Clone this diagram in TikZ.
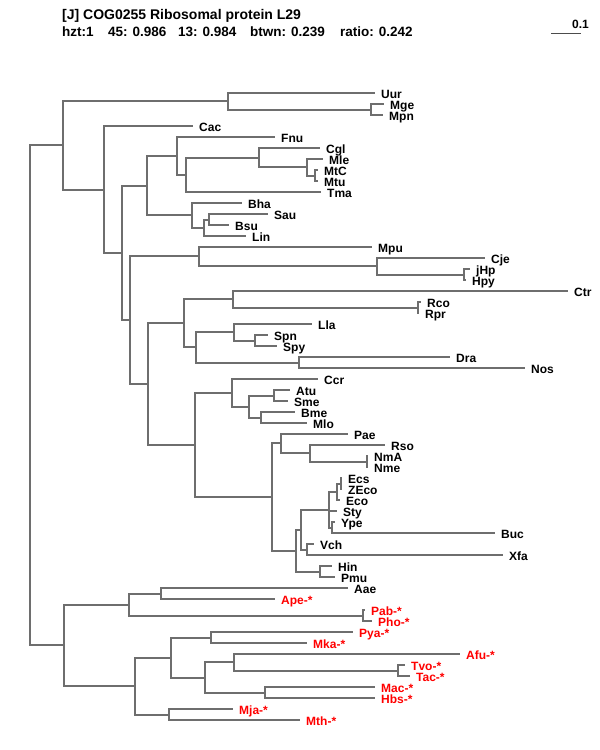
\documentclass[tikz,border=0pt]{standalone}
\usepackage{fontspec}
\setmainfont{Liberation Sans}
\begin{document}
\begin{tikzpicture}[x=1pt,y=-1pt]
    % COG0255 tree, laid out in pixel units (y grows downwards).
    % Every clade is a coordinate; branches run parent |- child.

    \tikzset{
      branch/.style={line width=2pt, draw=black!57},
      lab/.style={font=\fontsize{12}{13}\selectfont\bfseries, inner sep=0pt,
                  text height=8.6pt, text depth=0pt, xshift=6pt, yshift=-1.3pt},
      arch/.style={lab, text=red},
      head/.style={font=\fontsize{13.5}{15}\selectfont\bfseries, inner sep=0pt, anchor=base west}
    }
    \useasboundingbox (0,0) rectangle (600,750);

    % --- header and scale bar
    \node[head, font=\fontsize{14}{15}\selectfont\bfseries] (title) at (62,19) {[J] COG0255 Ribosomal protein L29};
    \node[head] (hzt) at (62,36) {hzt:1};
    \node[head] (s45) at (108,36) {45: 0.986};
    \node[head] (s13) at (178,36) {13: 0.984};
    \node[head] (btwn) at (250,36) {btwn: 0.239};
    \node[head] (ratio) at (340,36) {ratio: 0.242};
    \coordinate (barL) at (551,33);
    \coordinate (barR) at (581,33);
    \draw[line width=1pt, black!70] (barL) -- (barR);
    \node[lab, xshift=0pt, yshift=0pt, anchor=base east] (barlab) at (583,27) {0.1};

    % --- bacterial leaves
    \coordinate[label={[lab]0:Uur}] (Uur) at (375,93);
    \coordinate[label={[lab]0:Mge}] (Mge) at (384,104);
    \coordinate[label={[lab]0:Mpn}] (Mpn) at (383,115);
    \coordinate[label={[lab]0:Cac}] (Cac) at (193,126);
    \coordinate[label={[lab]0:Fnu}] (Fnu) at (275,137);
    \coordinate[label={[lab]0:Cgl}] (Cgl) at (320,148);
    \coordinate[label={[lab]0:Mle}] (Mle) at (323,159);
    \coordinate[label={[lab]0:MtC}] (MtC) at (318,170);
    \coordinate[label={[lab]0:Mtu}] (Mtu) at (318,181);
    \coordinate[label={[lab]0:Tma}] (Tma) at (321,192);
    \coordinate[label={[lab]0:Bha}] (Bha) at (242,203);
    \coordinate[label={[lab]0:Sau}] (Sau) at (268,214);
    \coordinate[label={[lab]0:Bsu}] (Bsu) at (229,225);
    \coordinate[label={[lab]0:Lin}] (Lin) at (246,236);
    \coordinate[label={[lab]0:Mpu}] (Mpu) at (372,247);
    \coordinate[label={[lab]0:Cje}] (Cje) at (485,258);
    \coordinate[label={[lab]0:jHp}] (jHp) at (470,269);
    \coordinate[label={[lab]0:Hpy}] (Hpy) at (466,280);
    \coordinate[label={[lab]0:Ctr}] (Ctr) at (568,291);
    \coordinate[label={[lab]0:Rco}] (Rco) at (421,302);
    \coordinate[label={[lab]0:Rpr}] (Rpr) at (419,313);
    \coordinate[label={[lab]0:Lla}] (Lla) at (312,324);
    \coordinate[label={[lab]0:Spn}] (Spn) at (268,335);
    \coordinate[label={[lab]0:Spy}] (Spy) at (277,346);
    \coordinate[label={[lab]0:Dra}] (Dra) at (450,357);
    \coordinate[label={[lab]0:Nos}] (Nos) at (525,368);
    \coordinate[label={[lab]0:Ccr}] (Ccr) at (318,379);
    \coordinate[label={[lab]0:Atu}] (Atu) at (290,390);
    \coordinate[label={[lab]0:Sme}] (Sme) at (288,401);
    \coordinate[label={[lab]0:Bme}] (Bme) at (295,412);
    \coordinate[label={[lab]0:Mlo}] (Mlo) at (307,423);
    \coordinate[label={[lab]0:Pae}] (Pae) at (348,434);
    \coordinate[label={[lab]0:Rso}] (Rso) at (385,445);
    \coordinate[label={[lab]0:NmA}] (NmA) at (368,456);
    \coordinate[label={[lab]0:Nme}] (Nme) at (368,467);
    \coordinate[label={[lab]0:Ecs}] (Ecs) at (342,478);
    \coordinate[label={[lab]0:ZEco}] (ZEco) at (342,489);
    \coordinate[label={[lab]0:Eco}] (Eco) at (340,500);
    \coordinate[label={[lab]0:Sty}] (Sty) at (337,511);
    \coordinate[label={[lab]0:Ype}] (Ype) at (335,522);
    \coordinate[label={[lab]0:Buc}] (Buc) at (495,533);
    \coordinate[label={[lab]0:Vch}] (Vch) at (314,544);
    \coordinate[label={[lab]0:Xfa}] (Xfa) at (503,555);
    \coordinate[label={[lab]0:Hin}] (Hin) at (332,566);
    \coordinate[label={[lab]0:Pmu}] (Pmu) at (335,577);

    % --- Aae and archaeal leaves
    \coordinate[label={[lab]0:Aae}] (Aae) at (348,588);
    \coordinate[label={[arch]0:Ape-*}] (Ape) at (275,599);
    \coordinate[label={[arch]0:Pab-*}] (Pab) at (365,610);
    \coordinate[label={[arch]0:Pho-*}] (Pho) at (372,621);
    \coordinate[label={[arch]0:Pya-*}] (Pya) at (353,632);
    \coordinate[label={[arch]0:Mka-*}] (Mka) at (307,643);
    \coordinate[label={[arch]0:Afu-*}] (Afu) at (460,654);
    \coordinate[label={[arch]0:Tvo-*}] (Tvo) at (405,665);
    \coordinate[label={[arch]0:Tac-*}] (Tac) at (410,676);
    \coordinate[label={[arch]0:Mac-*}] (Mac) at (375,687);
    \coordinate[label={[arch]0:Hbs-*}] (Hbs) at (375,698);
    \coordinate[label={[arch]0:Mja-*}] (Mja) at (233,709);
    \coordinate[label={[arch]0:Mth-*}] (Mth) at (300,720);

    % --- inner clades, upper half
    \coordinate (MgeMpn) at (371,110);
    \coordinate (myco) at (228,101);
    \coordinate (MtCMtu) at (315,176);
    \coordinate (mtb) at (307,167);
    \coordinate (actino) at (259,158);
    \coordinate (actTma) at (186,175);
    \coordinate (fusoAct) at (177,156);
    \coordinate (SauBsu) at (209,220);
    \coordinate (bacil) at (204,228);
    \coordinate (firmi) at (192,215);
    \coordinate (grampos) at (147,186);
    \coordinate (helico) at (464,275);
    \coordinate (epsilon) at (377,266);
    \coordinate (epsMpu) at (199,256);
    \coordinate (ricket) at (418,308);
    \coordinate (chlRic) at (233,299);
    \coordinate (strep) at (255,341);
    \coordinate (lacto) at (234,332);
    \coordinate (DraNos) at (299,363);
    \coordinate (lacDra) at (196,347);
    \coordinate (mixed) at (184,323);
    \coordinate (AtuSme) at (274,396);
    \coordinate (BmeMlo) at (261,418);
    \coordinate (rhizo) at (249,407);
    \coordinate (alpha) at (232,393);
    \coordinate (neiss) at (367,462);
    \coordinate (beta) at (310,453);
    \coordinate (paeBeta) at (281,443);
    \coordinate (EcsZEco) at (341,484);
    \coordinate (ecoli) at (337,492);
    \coordinate (YpeBuc) at (332,528);
    \coordinate (entero) at (329,510);
    \coordinate (VchXfa) at (307,550);
    \coordinate (gamma) at (301,530);
    \coordinate (pastu) at (320,572);
    \coordinate (gammaP) at (296,551);
    \coordinate (proteo) at (272,497);
    \coordinate (proteoA) at (195,445);
    \coordinate (deepA) at (148,384);
    \coordinate (deepB) at (130,320);
    \coordinate (bacteria) at (122,253);
    \coordinate (cacBac) at (104,190);
    \coordinate (bactAll) at (63,145);

    % --- inner clades, lower half
    \coordinate (AaeApe) at (161,594);
    \coordinate (PabPho) at (363,616);
    \coordinate (aaeCren) at (129,605);
    \coordinate (PyaMka) at (211,638);
    \coordinate (TvoTac) at (398,671);
    \coordinate (AfuTherm) at (234,662);
    \coordinate (MacHbs) at (265,693);
    \coordinate (euryA) at (205,678);
    \coordinate (euryB) at (171,658);
    \coordinate (MjaMth) at (169,715);
    \coordinate (eury) at (135,686);
    \coordinate (archAae) at (64,645);
    \coordinate (root) at (30,395);

    % --- branches
    \draw[branch] (root) |- (bactAll) (root) |- (archAae);
    \draw[branch] (bactAll) |- (myco) (bactAll) |- (cacBac)
      (myco) |- (Uur) (myco) |- (MgeMpn)
      (MgeMpn) |- (Mge) (MgeMpn) |- (Mpn)
      (cacBac) |- (Cac) (cacBac) |- (bacteria)
      (bacteria) |- (grampos) (bacteria) |- (deepB);
    \draw[branch] (grampos) |- (fusoAct) (grampos) |- (firmi)
      (fusoAct) |- (Fnu) (fusoAct) |- (actTma)
      (actTma) |- (actino) (actTma) |- (Tma)
      (actino) |- (Cgl) (actino) |- (mtb)
      (mtb) |- (Mle) (mtb) |- (MtCMtu)
      (MtCMtu) |- (MtC) (MtCMtu) |- (Mtu)
      (firmi) |- (Bha) (firmi) |- (bacil)
      (bacil) |- (SauBsu) (bacil) |- (Lin)
      (SauBsu) |- (Sau) (SauBsu) |- (Bsu);
    \draw[branch] (deepB) |- (epsMpu) (deepB) |- (deepA)
      (epsMpu) |- (Mpu) (epsMpu) |- (epsilon)
      (epsilon) |- (Cje) (epsilon) |- (helico)
      (helico) |- (jHp) (helico) |- (Hpy)
      (deepA) |- (mixed) (deepA) |- (proteoA)
      (mixed) |- (chlRic) (mixed) |- (lacDra)
      (chlRic) |- (Ctr) (chlRic) |- (ricket)
      (ricket) |- (Rco) (ricket) |- (Rpr)
      (lacDra) |- (lacto) (lacDra) |- (DraNos)
      (lacto) |- (Lla) (lacto) |- (strep)
      (strep) |- (Spn) (strep) |- (Spy)
      (DraNos) |- (Dra) (DraNos) |- (Nos);
    \draw[branch] (proteoA) |- (alpha) (proteoA) |- (proteo)
      (alpha) |- (Ccr) (alpha) |- (rhizo)
      (rhizo) |- (AtuSme) (rhizo) |- (BmeMlo)
      (AtuSme) |- (Atu) (AtuSme) |- (Sme)
      (BmeMlo) |- (Bme) (BmeMlo) |- (Mlo)
      (proteo) |- (paeBeta) (proteo) |- (gammaP)
      (paeBeta) |- (Pae) (paeBeta) |- (beta)
      (beta) |- (Rso) (beta) |- (neiss)
      (neiss) |- (NmA) (neiss) |- (Nme)
      (gammaP) |- (gamma) (gammaP) |- (pastu)
      (gamma) |- (entero) (gamma) |- (VchXfa)
      (entero) |- (ecoli) (entero) |- (Sty) (entero) |- (YpeBuc)
      (ecoli) |- (EcsZEco) (ecoli) |- (Eco)
      (EcsZEco) |- (Ecs) (EcsZEco) |- (ZEco)
      (YpeBuc) |- (Ype) (YpeBuc) |- (Buc)
      (VchXfa) |- (Vch) (VchXfa) |- (Xfa)
      (pastu) |- (Hin) (pastu) |- (Pmu);
    \draw[branch] (archAae) |- (aaeCren) (archAae) |- (eury)
      (aaeCren) |- (AaeApe) (aaeCren) |- (PabPho)
      (AaeApe) |- (Aae) (AaeApe) |- (Ape)
      (PabPho) |- (Pab) (PabPho) |- (Pho)
      (eury) |- (euryB) (eury) |- (MjaMth)
      (euryB) |- (PyaMka) (euryB) |- (euryA)
      (PyaMka) |- (Pya) (PyaMka) |- (Mka)
      (euryA) |- (AfuTherm) (euryA) |- (MacHbs)
      (AfuTherm) |- (Afu) (AfuTherm) |- (TvoTac)
      (TvoTac) |- (Tvo) (TvoTac) |- (Tac)
      (MacHbs) |- (Mac) (MacHbs) |- (Hbs)
      (MjaMth) |- (Mja) (MjaMth) |- (Mth);
  \end{tikzpicture}
\end{document}
